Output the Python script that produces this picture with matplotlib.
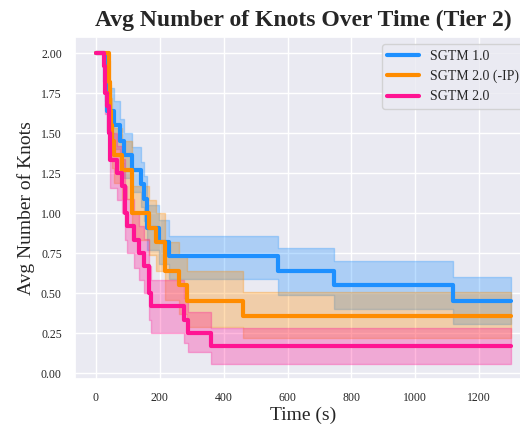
import matplotlib
matplotlib.use('Agg')
import matplotlib.pyplot as plt
import seaborn as sns

# step times (s), mean knots and band edges per method
t_blue = [0, 30, 35, 56, 77, 88, 114, 140, 150, 160, 197, 228, 569, 744, 1119, 1300]
m_blue = [2.0, 1.82, 1.64, 1.55, 1.45, 1.36, 1.27, 1.18, 1.09, 0.91, 0.82, 0.73, 0.64, 0.55, 0.45, 0.45]
hi_blue = [2.0, 1.94, 1.78, 1.70, 1.59, 1.50, 1.41, 1.32, 1.23, 1.05, 0.96, 0.86, 0.78, 0.70, 0.60, 0.60]
lo_blue = [2.0, 1.70, 1.50, 1.40, 1.31, 1.22, 1.13, 1.04, 0.95, 0.77, 0.68, 0.59, 0.49, 0.40, 0.31, 0.31]

t_orange = [0, 40, 44, 48, 52, 56, 82, 112, 165, 188, 216, 260, 287, 460, 1300]
m_orange = [2.0, 1.82, 1.64, 1.55, 1.45, 1.36, 1.27, 1.0, 0.91, 0.82, 0.64, 0.55, 0.45, 0.36, 0.36]
hi_orange = [2.0, 1.95, 1.80, 1.72, 1.62, 1.53, 1.45, 1.17, 1.08, 1.0, 0.82, 0.73, 0.64, 0.51, 0.51]
lo_orange = [2.0, 1.69, 1.48, 1.38, 1.28, 1.19, 1.09, 0.83, 0.74, 0.64, 0.46, 0.37, 0.29, 0.22, 0.22]

t_pink = [0, 25, 30, 35, 41, 46, 67, 82, 93, 98, 119, 134, 150, 167, 172, 276, 290, 359, 1300]
m_pink = [2.0, 1.92, 1.75, 1.67, 1.5, 1.33, 1.25, 1.17, 1.0, 0.92, 0.83, 0.75, 0.67, 0.5, 0.42, 0.33, 0.25, 0.17, 0.17]
hi_pink = [2.0, 2.0, 1.88, 1.82, 1.66, 1.50, 1.42, 1.34, 1.17, 1.09, 1.00, 0.92, 0.84, 0.67, 0.58, 0.47, 0.38, 0.28, 0.28]
lo_pink = [2.0, 1.84, 1.62, 1.52, 1.34, 1.16, 1.08, 1.00, 0.83, 0.75, 0.66, 0.58, 0.50, 0.33, 0.25, 0.19, 0.13, 0.06, 0.06]

labels = ['SGTM 1.0', 'SGTM 2.0 (-IP)', 'SGTM 2.0']
colors = ['#1E90FF', '#FF8C00', '#FF1493']

sns.set_theme(style='darkgrid')
plt.rcParams['font.family'] = ['Liberation Serif', 'DejaVu Serif']

fig = plt.figure(figsize=(5.2, 4.26), dpi=100)
ax = fig.add_axes([75 / 520, 0.110, (532 - 75) / 520, 0.802])

series = [(t_blue, m_blue, lo_blue, hi_blue),
          (t_orange, m_orange, lo_orange, hi_orange),
          (t_pink, m_pink, lo_pink, hi_pink)]

for (t, m, lo, hi), lab, c in zip(series, labels, colors):
    ax.fill_between(t, lo, hi, step='post', color=c, alpha=0.3, linewidth=1, zorder=2)
for (t, m, lo, hi), lab, c in zip(series, labels, colors):
    ax.step(t, m, where='post', color=c, linewidth=3, label=lab, zorder=3)

ax.set_yticks([0, 0.25, 0.5, 0.75, 1.0, 1.25, 1.5, 1.75, 2.0])
ax.set_xticks([0, 200, 400, 600, 800, 1000, 1200])
ax.tick_params(labelsize=8.5)
ax.set_title('Avg Number of Knots Over Time (Tier 2)', fontsize=17, fontweight='bold', pad=8)
ax.set_xlabel('Time (s)', fontsize=14, labelpad=2)
ax.set_ylabel('Avg Number of Knots', fontsize=14)
ax.legend(loc='upper right', fontsize=10, handlelength=2.3)

plt.savefig('out.png', dpi=100)
